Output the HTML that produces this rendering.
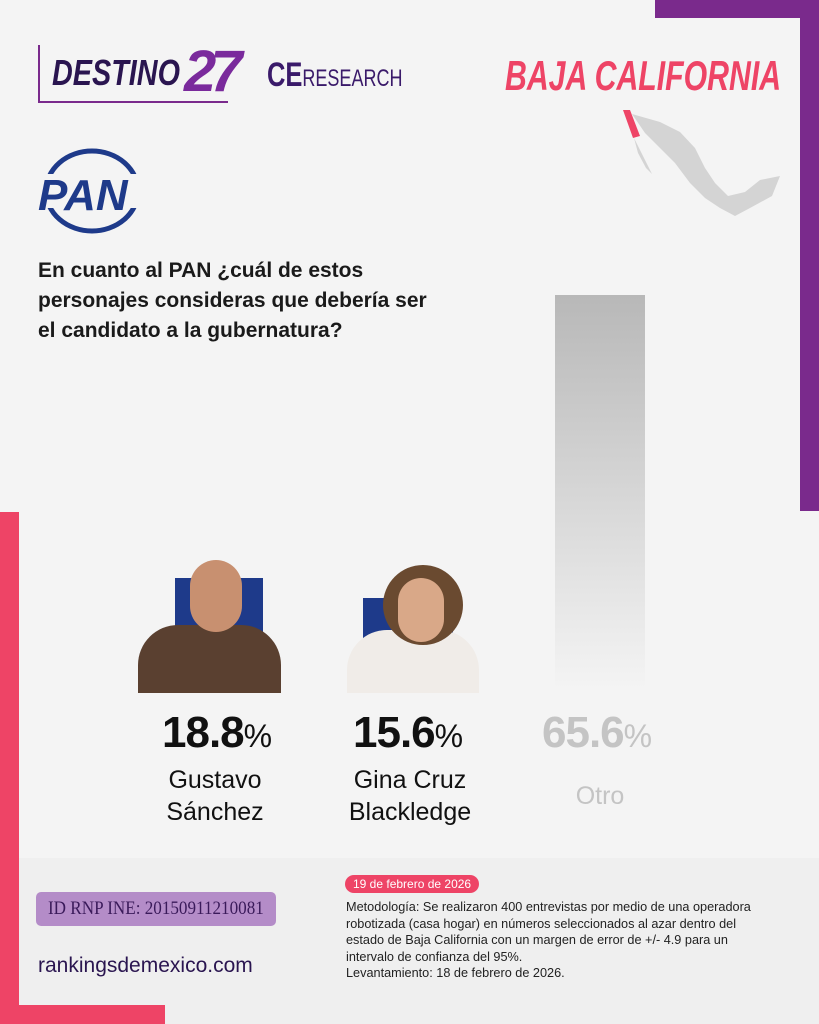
<!DOCTYPE html>
<html><head><meta charset="utf-8"><style>
body{margin:0;width:819px;height:1024px;background:#f4f4f4;position:relative;overflow:hidden;font-family:"Liberation Sans",sans-serif}
.a{position:absolute}
.pct{font-weight:bold;font-size:44px;color:#111;letter-spacing:-1px}
.pct span{font-size:32px;font-weight:normal}
.nm{font-size:25px;color:#111;text-align:center;line-height:32px}
</style></head><body>
<div class="a" style="left:655px;top:0;width:164px;height:18px;background:#7a2a8c"></div>
<div class="a" style="left:800px;top:0;width:19px;height:511px;background:#7a2a8c"></div>
<div class="a" style="left:0;top:858px;width:819px;height:166px;background:#efefef"></div>
<div class="a" style="left:0;top:512px;width:19px;height:512px;background:#ee4466"></div>
<div class="a" style="left:0;top:1005px;width:165px;height:19px;background:#ee4466"></div>

<div class="a" style="left:38px;top:45px;width:2px;height:58px;background:#7a2a8c"></div>
<div class="a" style="left:38px;top:101px;width:190px;height:2px;background:#7a2a8c"></div>
<div class="a" style="left:52px;top:52px;font-size:36px;font-weight:bold;font-style:italic;color:#2a1550;transform:scaleX(0.8);transform-origin:left">DESTINO</div>
<div class="a" style="left:184px;top:38px;font-size:58px;font-weight:bold;font-style:italic;color:#7a2a9c;letter-spacing:-6px">27</div>
<div class="a" style="left:267px;top:56px;font-size:34px;font-weight:bold;color:#3a1a6a;transform:scaleX(0.75);transform-origin:left;white-space:nowrap">CE<span style="font-size:24px;font-weight:normal">RESEARCH</span></div>
<div class="a" style="left:505px;top:52px;font-size:42px;font-weight:bold;font-style:italic;color:#ee4466;transform:scaleX(0.72);transform-origin:left;white-space:nowrap">BAJA CALIFORNIA</div>
<svg class="a" style="left:620px;top:108px" width="165" height="112"><path d="M12,6 L40,14 L60,24 L75,40 L85,60 L95,75 L108,88 L125,84 L140,72 L160,68 L152,88 L130,100 L115,108 L100,100 L85,90 L70,75 L55,55 L40,40 L25,25 Z" fill="#d4d4d4"/><path d="M14,30 L20,42 L28,58 L32,66 L26,60 L18,45 Z" fill="#d4d4d4"/><path d="M3,2 L10,2 L20,28 L13,30 Z" fill="#ee4466"/></svg>

<svg class="a" style="left:36px;top:146px" width="108" height="90"><ellipse cx="56" cy="45" rx="46" ry="40" fill="none" stroke="#1e3a8a" stroke-width="5"/><rect x="0" y="28" width="108" height="34" fill="#f4f4f4"/><text x="2" y="64" font-family="Liberation Sans" font-weight="bold" font-style="italic" font-size="44" fill="#1e3a8a">PAN</text></svg>

<div class="a" style="left:38px;top:256px;font-size:21px;font-weight:bold;color:#1a1a1a;line-height:30px">En cuanto al PAN ¿cuál de estos<br>personajes consideras que debería ser<br>el candidato a la gubernatura?</div>

<div class="a" style="left:555px;top:295px;width:90px;height:395px;background:linear-gradient(#b8b8b8,#f4f4f4)"></div>

<div class="a" style="left:175px;top:578px;width:88px;height:65px;background:#1e3a8a"></div>
<div class="a" style="left:138px;top:625px;width:143px;height:68px;background:#5a4030;border-radius:40px 40px 0 0"></div>
<div class="a" style="left:190px;top:560px;width:52px;height:72px;background:#c89070;border-radius:26px"></div>
<div class="a" style="left:363px;top:598px;width:90px;height:45px;background:#1e3a8a"></div>
<div class="a" style="left:347px;top:630px;width:132px;height:63px;background:#f0ece8;border-radius:40px 40px 0 0"></div>
<div class="a" style="left:383px;top:565px;width:80px;height:80px;background:#6a4a30;border-radius:40px"></div>
<div class="a" style="left:398px;top:578px;width:46px;height:64px;background:#d9a888;border-radius:23px"></div>

<div class="a pct" style="left:162px;top:708px">18.8<span>%</span></div>
<div class="a pct" style="left:353px;top:708px">15.6<span>%</span></div>
<div class="a pct" style="left:542px;top:708px;color:#c4c4c4">65.6<span>%</span></div>
<div class="a nm" style="left:140px;top:764px;width:150px">Gustavo<br>Sánchez</div>
<div class="a nm" style="left:330px;top:764px;width:160px">Gina Cruz<br>Blackledge</div>
<div class="a nm" style="left:525px;top:780px;width:150px;color:#c4c4c4">Otro</div>

<div class="a" style="left:36px;top:892px;width:240px;height:34px;background:#b48cc8;border-radius:5px;color:#3a1a5a;font-size:19px;line-height:34px;text-align:center;font-family:'Liberation Serif',serif"><span style="display:inline-block;transform:scaleX(0.9)">ID RNP INE: 20150911210081</span></div>
<div class="a" style="left:38px;top:954px;font-size:21px;color:#2a1550">rankingsdemexico.com</div>
<div class="a" style="left:345px;top:875px;background:#ee4466;color:#fff;font-size:12px;padding:2px 8px;border-radius:9px">19 de febrero de 2026</div>
<div class="a" style="left:346px;top:899px;font-size:12.7px;color:#222;line-height:16.5px;width:470px;white-space:nowrap">Metodología: Se realizaron 400 entrevistas por medio de una operadora<br>robotizada (casa hogar) en números seleccionados al azar dentro del<br>estado de Baja California con un margen de error de +/- 4.9 para un<br>intervalo de confianza del 95%.<br>Levantamiento: 18 de febrero de 2026.</div>
</body></html>
